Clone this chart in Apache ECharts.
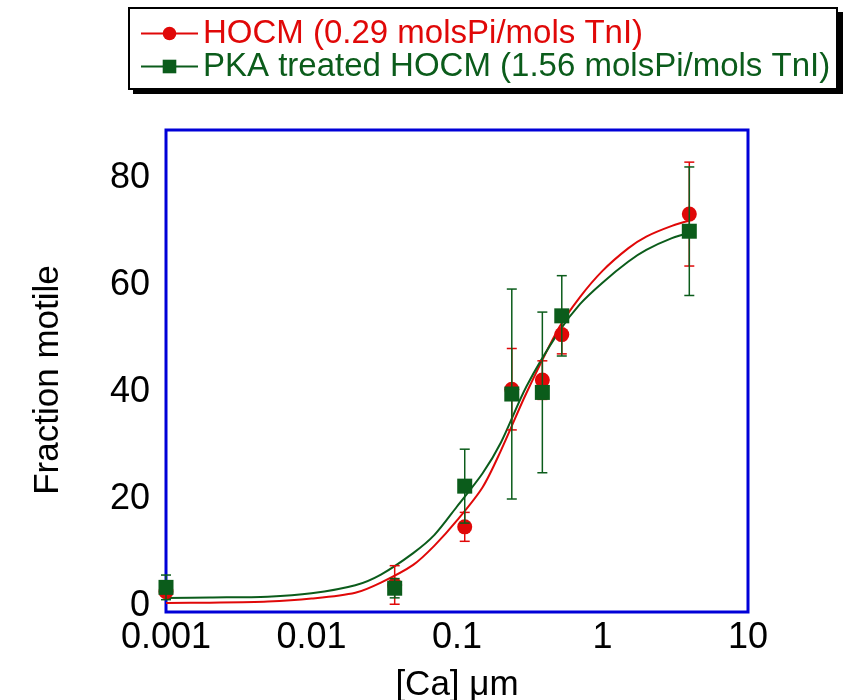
<!DOCTYPE html>
<html>
<head>
<meta charset="utf-8">
<script src="https://cdn.jsdelivr.net/npm/echarts@6/dist/echarts.min.js"></script>
<style>
  html, body { margin: 0; padding: 0; background: #ffffff; }
  #chart { width: 846px; height: 700px; }
</style>
</head>
<body>
<div id="chart"></div>
<script>
// Axis ticks
const xTicks = [0.001, 0.01, 0.1, 1, 10];
const xTickLabels = ['0.001', '0.01', '0.1', '1', '10'];
const yTicks = [0, 20, 40, 60, 80];

// Measured points: [Ca] (µM), mean fraction motile and error half-width
const caConc = [0.001, 0.0373, 0.113, 0.238, 0.386, 0.525, 3.95];
const hocmMean = [2.2, 3.45, 14.3, 40.0, 41.7, 50.2, 72.7];
const hocmErr = [0.8, 3.6, 2.7, 7.6, 3.6, 3.6, 9.7];
const pkaMean = [3.0, 2.84, 21.9, 39.1, 39.4, 53.7, 69.5];
const pkaErr = [2.3, 1.8, 6.9, 19.6, 15.0, 7.5, 12.0];

// Fitted curves sampled along [Ca]
const fitCa = [0.001, 0.002, 0.005, 0.01, 0.02, 0.03, 0.05, 0.07, 0.1, 0.15, 0.2, 0.3, 0.5, 0.7, 1, 1.5, 2, 3, 4];
const hocmFit = [0.1, 0.15, 0.35, 0.9, 2.0, 3.9, 7.2, 10.8, 15.5, 21.7, 28.5, 39.3, 51.4, 57.2, 62.1, 66.3, 68.5, 70.5, 71.5];
const pkaFit = [1.0, 1.1, 1.27, 1.9, 3.4, 5.4, 9.4, 12.8, 18.1, 24.3, 30.0, 40.5, 50.7, 55.9, 59.9, 63.8, 66.0, 68.2, 69.2];

const hocmName = 'HOCM (0.29 molsPi/mols TnI)';
const pkaName = 'PKA treated HOCM (1.56 molsPi/mols TnI)';
const RED = '#e00808';
const GREEN = '#0b5c1b';
const FONT = '"Liberation Sans", Arial, Helvetica, sans-serif';

const pairs = (xs, ys) => xs.map((x, i) => [x, ys[i]]);
const bars = (xs, m, e) => xs.map((x, i) => [x, m[i] - e[i], m[i] + e[i]]);

function errorBars(color) {
  return function (params, api) {
    const x = api.value(0);
    const lo = api.coord([x, api.value(1)]);
    const hi = api.coord([x, api.value(2)]);
    const w = 5;
    const st = { stroke: color, lineWidth: 1.5 };
    return {
      type: 'group',
      children: [
        { type: 'line', shape: { x1: lo[0], y1: lo[1], x2: hi[0], y2: hi[1] }, style: st },
        { type: 'line', shape: { x1: lo[0] - w, y1: lo[1], x2: lo[0] + w, y2: lo[1] }, style: st },
        { type: 'line', shape: { x1: hi[0] - w, y1: hi[1], x2: hi[0] + w, y2: hi[1] }, style: st }
      ]
    };
  };
}

const chart = echarts.init(document.getElementById('chart'), null, { renderer: 'canvas' });

chart.setOption({
  animation: false,
  backgroundColor: '#ffffff',
  textStyle: { fontFamily: FONT },
  grid: {
    left: 166, top: 130, width: 582, height: 482,
    outerBoundsMode: 'none', containLabel: false,
    show: true, borderColor: '#0000d8', borderWidth: 3, backgroundColor: 'transparent'
  },
  graphic: [
    {
      // drop shadow behind the legend box
      type: 'rect', left: 133, top: 12, z: 1, silent: true,
      shape: { width: 710, height: 82 },
      style: { fill: '#000000' }
    },
    {
      type: 'rect', left: 128, top: 7, z: 2, silent: true,
      shape: { width: 708, height: 81 },
      style: { fill: '#ffffff', stroke: '#000000', lineWidth: 2 }
    },
    {
      type: 'text', x: 48, y: 380, rotation: Math.PI / 2, z: 5, silent: true,
      style: {
        text: 'Fraction motile', fontSize: 35, fontFamily: FONT, fill: '#000000',
        textAlign: 'center', textVerticalAlign: 'middle'
      }
    }
  ],
  legend: {
    orient: 'vertical', left: 140, top: 17, z: 10, padding: 0,
    itemWidth: 57, itemHeight: 17, itemGap: 0,
    selectedMode: false,
    textStyle: { fontSize: 33, lineHeight: 32, fontFamily: FONT },
    data: [
      { name: hocmName, textStyle: { color: RED } },
      { name: pkaName, textStyle: { color: GREEN } }
    ]
  },
  xAxis: {
    type: 'log', logBase: 10, min: 0.001, max: 10,
    axisLine: { show: false }, axisTick: { show: false }, splitLine: { show: false },
    axisLabel: {
      fontSize: 36, color: '#000', margin: 8, fontFamily: FONT,
      formatter: (v) => {
        const i = xTicks.findIndex(t => Math.abs(Math.log10(t) - Math.log10(v)) < 1e-6);
        return i >= 0 ? xTickLabels[i] : '';
      }
    },
    name: '[Ca] μm', nameLocation: 'middle', nameGap: 56,
    nameTextStyle: { fontSize: 35, color: '#000', fontFamily: FONT }
  },
  yAxis: {
    type: 'value', min: -1.6, max: 88.4,
    axisLine: { show: false }, axisTick: { show: false }, splitLine: { show: false },
    axisLabel: {
      color: '#000', margin: 16, fontFamily: FONT, customValues: yTicks,
      formatter: '{t|{value}}',
      rich: { t: { fontSize: 36, fontFamily: FONT, color: '#000', padding: [6, 0, 0, 0] } }
    }
  },
  series: [
    {
      name: hocmName, type: 'line', data: pairs(fitCa, hocmFit), smooth: 0.3,
      symbol: 'circle', showSymbol: false, z: 2,
      lineStyle: { color: RED, width: 2 }, itemStyle: { color: RED }
    },
    {
      name: pkaName, type: 'line', data: pairs(fitCa, pkaFit), smooth: 0.3,
      symbol: 'rect', showSymbol: false, z: 2,
      lineStyle: { color: GREEN, width: 2 }, itemStyle: { color: GREEN }
    },
    {
      name: 'hocm-err', type: 'custom', data: bars(caConc, hocmMean, hocmErr), z: 3,
      renderItem: errorBars(RED), encode: { x: 0, y: [1, 2] }
    },
    {
      name: 'hocm-pts', type: 'scatter', data: pairs(caConc, hocmMean), z: 4,
      symbol: 'circle', symbolSize: 15, itemStyle: { color: RED, opacity: 1 }
    },
    {
      name: 'pka-err', type: 'custom', data: bars(caConc, pkaMean, pkaErr), z: 5,
      renderItem: errorBars(GREEN), encode: { x: 0, y: [1, 2] }
    },
    {
      name: 'pka-pts', type: 'scatter', data: pairs(caConc, pkaMean), z: 6,
      symbol: 'rect', symbolSize: 15, itemStyle: { color: GREEN, opacity: 1 }
    }
  ]
});
</script>
</body>
</html>
